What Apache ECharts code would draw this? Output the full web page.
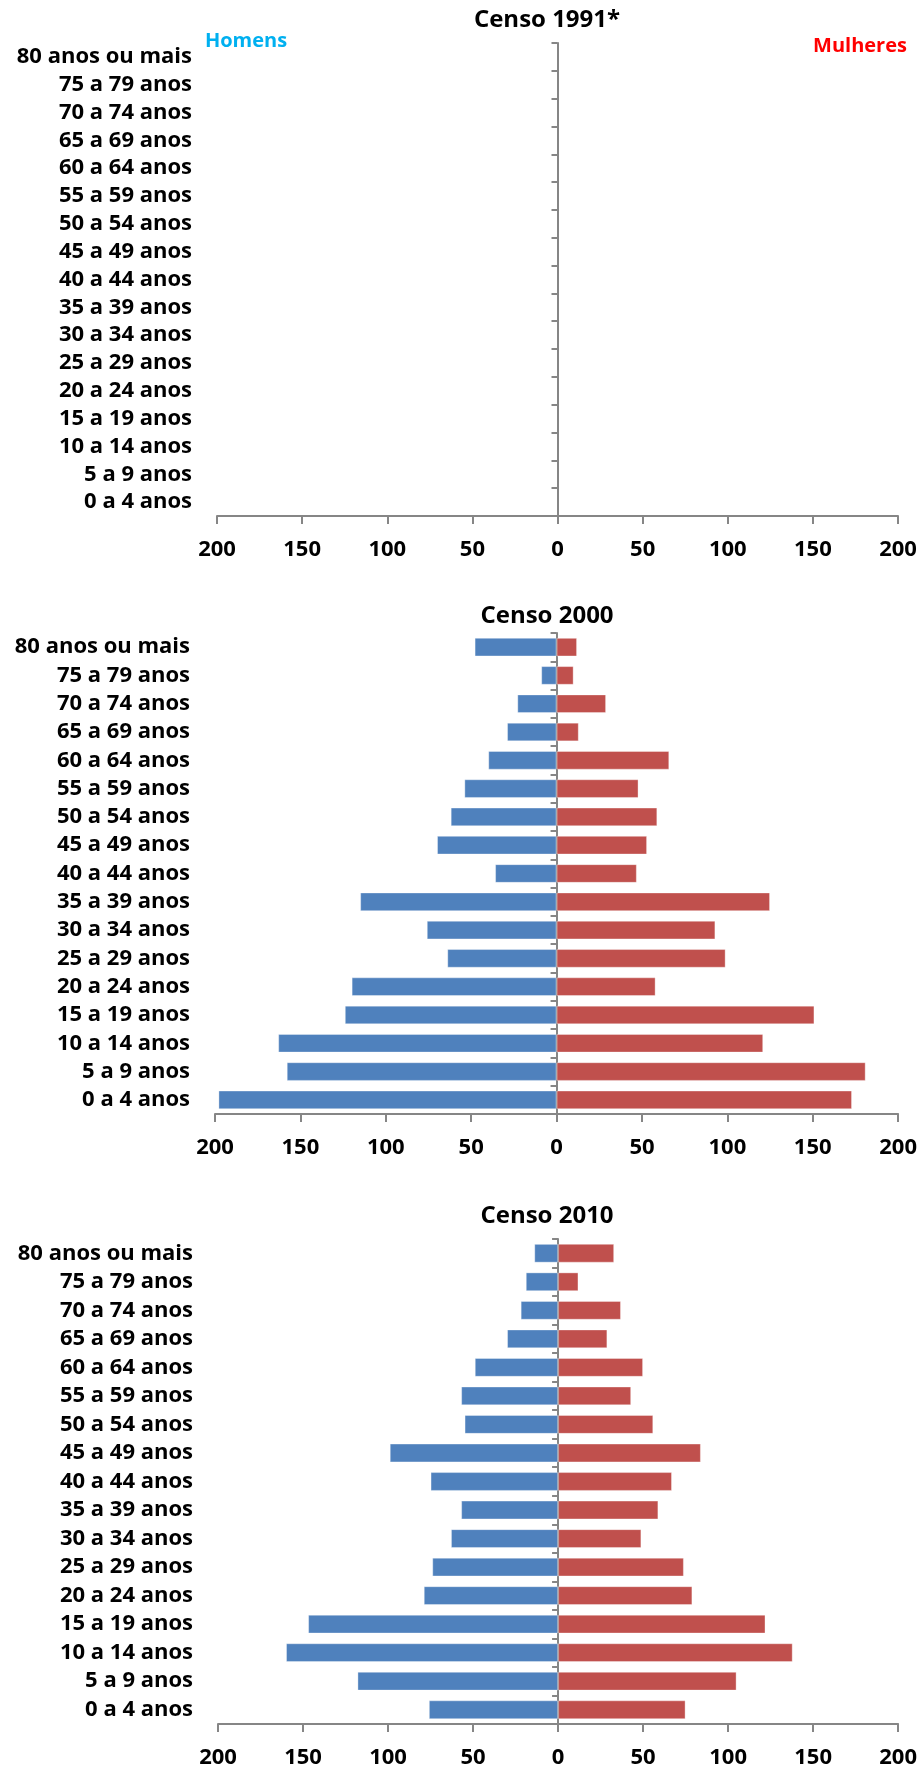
<!DOCTYPE html>
<html>
<head>
<meta charset="utf-8">
<title>Pirâmides etárias — Censos 1991, 2000 e 2010</title>
<script src="https://cdn.jsdelivr.net/npm/echarts@6/dist/echarts.min.js"></script>
<style>
  html, body { margin: 0; padding: 0; background: #ffffff; }
  #chart { width: 920px; height: 1769px; }
</style>
</head>
<body>
<div id="chart"></div>
<script>
// Age groups, listed from the youngest (bottom of each pyramid) to the oldest (top)
const faixas = [
  '0 a 4 anos', '5 a 9 anos', '10 a 14 anos', '15 a 19 anos', '20 a 24 anos',
  '25 a 29 anos', '30 a 34 anos', '35 a 39 anos', '40 a 44 anos', '45 a 49 anos',
  '50 a 54 anos', '55 a 59 anos', '60 a 64 anos', '65 a 69 anos', '70 a 74 anos',
  '75 a 79 anos', '80 anos ou mais'
];

const titulos = ['Censo 1991*', 'Censo 2000', 'Censo 2010'];

// Censo 1991: no data available
const homens1991 = [];
const mulheres1991 = [];

// Censo 2000
const homens2000   = [198, 158, 163, 124, 120, 64, 76, 115, 36, 70, 62, 54, 40, 29, 23, 9, 48];
const mulheres2000 = [173, 181, 121, 151, 58, 99, 93, 125, 47, 53, 59, 48, 66, 13, 29, 10, 12];

// Censo 2010
const homens2010   = [76, 118, 160, 147, 79, 74, 63, 57, 75, 99, 55, 57, 49, 30, 22, 19, 14];
const mulheres2010 = [75, 105, 138, 122, 79, 74, 49, 59, 67, 84, 56, 43, 50, 29, 37, 12, 33];

// Value axis ticks (shown as absolute numbers on both sides)
const escalaMin = -200;
const escalaMax = 200;
const escalaPasso = 50;

const FONT = 'Open Sans';
const AXIS_GRAY = '#868686';
const AZUL = '#4F81BD';
const VERMELHO = '#C0504D';

const censos = [
  { homens: homens1991, mulheres: mulheres1991 },
  { homens: homens2000, mulheres: mulheres2000 },
  { homens: homens2010, mulheres: mulheres2010 }
];

// Layout of the three stacked pyramids
const grids = [
  { left: 217, top: 43,   width: 681, height: 473 },
  { left: 215, top: 633,  width: 686, height: 481 },
  { left: 218, top: 1239, width: 682, height: 486 }
];
const titleTops = [8, 604, 1204];

const option = {
  animation: false,
  backgroundColor: '#ffffff',
  textStyle: { fontFamily: FONT },
  title: titulos.map((t, i) => ({
    text: t,
    left: 547,
    top: titleTops[i],
    textAlign: 'center',
    padding: 0,
    textStyle: { fontFamily: FONT, fontWeight: 'bold', fontSize: 24, color: '#000' }
  })),
  graphic: [
    {
      type: 'text', x: 246, y: 41,
      style: { text: 'Homens', fill: '#00B0F0', font: 'bold 20px "Open Sans"',
               textAlign: 'center', textVerticalAlign: 'middle' }
    },
    {
      type: 'text', x: 860, y: 46,
      style: { text: 'Mulheres', fill: '#FF0000', font: 'bold 20px "Open Sans"',
               textAlign: 'center', textVerticalAlign: 'middle' }
    }
  ],
  grid: grids.map(g => Object.assign({ containLabel: false }, g)),
  xAxis: grids.map((g, i) => ({
    type: 'value',
    gridIndex: i,
    min: escalaMin,
    max: escalaMax,
    interval: escalaPasso,
    splitLine: { show: false },
    axisLine: { show: true, onZero: false, lineStyle: { color: AXIS_GRAY, width: 2 } },
    axisTick: { show: true, length: 8, lineStyle: { color: AXIS_GRAY, width: 2 } },
    axisLabel: {
      margin: 23,
      fontFamily: FONT, fontWeight: 'bold', fontSize: 22, color: '#000',
      formatter: v => String(Math.abs(v))
    }
  })),
  yAxis: grids.flatMap((g, i) => [
    // category labels at the far left
    {
      type: 'category',
      gridIndex: i,
      data: faixas,
      position: 'left',
      axisLine: { show: false, onZero: false },
      axisTick: { show: false },
      axisLabel: {
        interval: 0,
        margin: 25,
        fontFamily: FONT, fontWeight: 'bold', fontSize: 22, color: '#000'
      }
    },
    // central axis line through zero, with boundary ticks
    {
      type: 'category',
      gridIndex: i,
      data: faixas,
      position: 'left',
      axisLine: { show: true, onZero: true, lineStyle: { color: AXIS_GRAY, width: 2 } },
      axisTick: { show: true, interval: 0, length: 6, lineStyle: { color: AXIS_GRAY, width: 2 } },
      axisLabel: { show: false }
    }
  ]),
  series: censos.flatMap((c, i) => [
    {
      name: 'Homens',
      type: 'bar',
      xAxisIndex: i,
      yAxisIndex: i * 2,
      stack: 'censo' + i,
      barCategoryGap: '34%',
      itemStyle: { color: AZUL, borderColor: 'rgba(255,255,255,0.35)', borderWidth: 1 },
      data: c.homens.map(v => -v)
    },
    {
      name: 'Mulheres',
      type: 'bar',
      xAxisIndex: i,
      yAxisIndex: i * 2,
      stack: 'censo' + i,
      barCategoryGap: '34%',
      itemStyle: { color: VERMELHO, borderColor: 'rgba(255,255,255,0.35)', borderWidth: 1 },
      data: c.mulheres.slice()
    }
  ])
};

const chart = echarts.init(document.getElementById('chart'), null, { renderer: 'canvas' });
chart.setOption(option);
</script>
</body>
</html>
